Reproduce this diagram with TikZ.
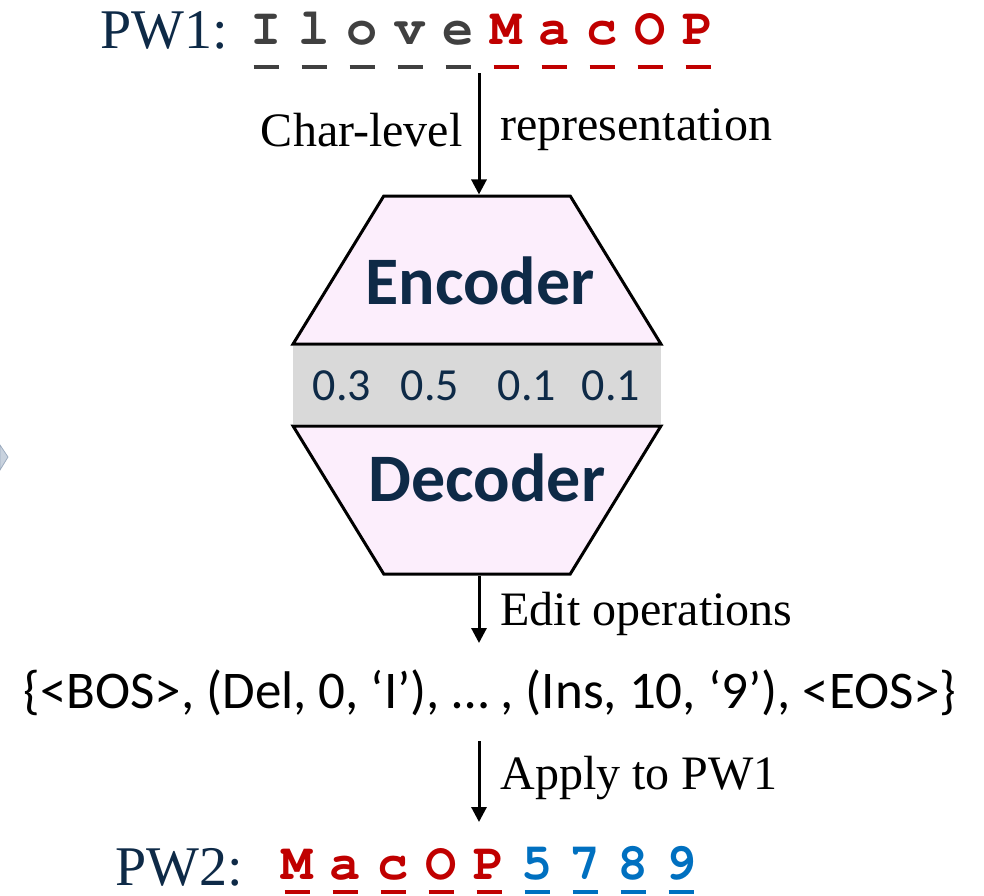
\documentclass[tikz,border=0pt]{standalone}
\usepackage{fontspec}
\setmainfont{Liberation Serif}
\newfontfamily\cfont{Carlito}
\newfontfamily\pwfont{TeX Gyre Cursor}
\usetikzlibrary{shapes.geometric,arrows.meta}
\definecolor{navy}{HTML}{0E2A47}
\definecolor{pwred}{HTML}{C00000}
\definecolor{pwgray}{HTML}{404040}
\definecolor{pwblue}{HTML}{0070C0}
\definecolor{boxpink}{HTML}{FCEEFC}
\definecolor{bandgray}{HTML}{D9D9D9}
\definecolor{fragfill}{HTML}{C8D2DE}
\definecolor{fragline}{HTML}{9DACBF}
\tikzset{
  ch/.style={font=\pwfont\bfseries\fontsize{26}{26}\selectfont, inner sep=0pt, anchor=base},
  uline/.style={line width=2pt},
  lbl/.style={font=\fontsize{24}{24}\selectfont, inner sep=0pt},
  pwlbl/.style={font=\fontsize{28}{28}\selectfont, text=navy, inner sep=0pt, anchor=base west},
  num/.style={font=\cfont\fontsize{23}{23}\selectfont, text=navy, inner sep=0pt},
  boxtxt/.style={font=\cfont\bfseries\fontsize{34}{34}\selectfont, text=navy, inner sep=0pt},
  arr/.style={line width=1.5pt, -{Triangle[length=7.5pt,width=7.5pt]}},
  trap/.style={trapezium, trapezium stretches, draw=black, line width=1.5pt, fill=boxpink,
    minimum width=184pt, minimum height=74pt, inner sep=2pt}
}
\begin{document}
\begin{tikzpicture}[x=0.5pt,y=-0.5pt]
\useasboundingbox (0,0) rectangle (984,895);
% slide fragment on the left
\filldraw[draw=fragline, fill=fragfill] (0,445) -- (8,457) -- (0,470) -- cycle;

% first password
\node[pwlbl] (pwone) at (100,48) {PW1:};
\foreach \c [count=\i] in {I,l,o,v,e}{
  \node[ch, text=pwgray] (p\i) at (218+48*\i,44) {\c};
  \draw[uline, pwgray] (205.5+48*\i,67) -- (230.5+48*\i,67);
}
\foreach \c [count=\i] in {M,a,c,O,P}{
  \node[ch, text=pwred] (q\i) at (458+48*\i,44) {\c};
  \draw[uline, pwred] (445.5+48*\i,67) -- (470.5+48*\i,67);
}
\coordinate (pwonebot) at (479,73);

% encoder / decoder
\node[fill=bandgray, minimum width=184pt, minimum height=39pt, inner sep=0pt] (band) at (477,385) {};
\node[trap, trapezium left angle=63, trapezium right angle=63] (enc) at (477,270) {\phantom{x}};
\node[trap, shape border rotate=180, trapezium left angle=63, trapezium right angle=63] (dec) at (477,500) {\phantom{x}};
\node[boxtxt] (enctxt) at (480,281) {Encoder};
\node[boxtxt] (dectxt) at (487,478) {Decoder};
\node[num] (n1) at (342,386) {0.3};
\node[num] (n2) at (430,386) {0.5};
\node[num] (n3) at (527,386) {0.1};
\node[num] (n4) at (611,386) {0.1};

\draw[arr] (pwonebot) -- (pwonebot |- enc.north);
\node[lbl, anchor=east] (charlvl) at (463,130) {Char-level};
\node[lbl, anchor=west] (repr) at (500,130) {representation};

% edit operations
\node[font=\cfont\fontsize{26.5}{26.5}\selectfont, inner sep=0pt] (ops) at (490,693)
  {\{<BOS>, (Del, 0, ‘I’), … , (Ins, 10, ‘9’), <EOS>\}};
\coordinate (opstop) at (479,643);
\draw[arr] (dec.south -| opstop) -- (opstop);
\node[lbl, anchor=west] (editlbl) at (500,614) {Edit operations};

\coordinate (opsbot) at (479,741);
\coordinate (pwtwotop) at (479,822);
\draw[arr] (opsbot) -- (pwtwotop);
\node[lbl, anchor=west] (applylbl) at (500,778) {Apply to PW1};

% second password
\node[pwlbl] (pwtwo) at (115,885) {PW2:};
\foreach \c [count=\i] in {M,a,c,O,P}{
  \node[ch, text=pwred] (r\i) at (249+48*\i,879) {\c};
  \draw[uline, pwred] (236.5+48*\i,892) -- (261.5+48*\i,892);
}
\foreach \c [count=\i] in {5,7,8,9}{
  \node[ch, text=pwblue] (s\i) at (489+48*\i,879) {\c};
  \draw[uline, pwblue] (476.5+48*\i,892) -- (501.5+48*\i,892);
}
\end{tikzpicture}
\end{document}
